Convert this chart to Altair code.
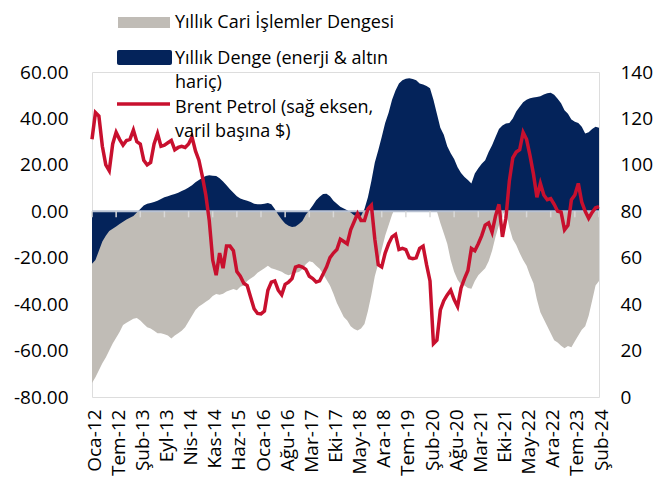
import altair as alt
import pandas as pd

FONT = "Open Sans"
GRAY = "#c0bcb6"
NAVY = "#04235a"
RED = "#c8102e"

labels = ["Oca-12", "Tem-12", "Şub-13", "Eyl-13", "Nis-14", "Kas-14", "Haz-15", "Oca-16",
          "Ağu-16", "Mar-17", "Eki-17", "May-18", "Ara-18", "Tem-19", "Şub-20", "Ağu-20",
          "Mar-21", "Eki-21", "May-22", "Ara-22", "Tem-23", "Şub-24"]

brent = [111, 122.5, 121, 108, 100, 97.5, 109, 114, 111, 108.5,
         110.5, 111, 115, 110, 109, 102, 100, 101, 109, 113.5,
         108, 108.5, 109.5, 110.5, 106.5, 107.5, 108, 107.5, 109, 112,
         106, 102, 95, 87, 76, 59, 52.5, 62, 55.5, 65,
         65, 63, 54, 52, 49, 48, 43, 38, 36, 35.8,
         37, 46, 49.5, 50, 46, 44, 48.5, 49.5, 51, 56,
         56.5, 56, 55, 52, 51, 49.5, 50, 53, 56, 60,
         62, 63.5, 68, 67, 66, 72, 75.5, 79, 76, 76,
         81, 82.6, 68, 57, 56, 62, 66, 69, 70, 63.5,
         64, 63.5, 60, 59.6, 60, 64, 65, 57, 50, 23,
         24.5, 37.5, 41.5, 44, 46, 42, 39, 47, 51, 54.5,
         64, 63, 66, 69.5, 74, 75, 71, 78, 83, 69,
         77, 93, 103, 105.5, 106.5, 114, 111, 104, 96, 86,
         92, 87, 85, 85.5, 83, 80, 79.7, 72, 74, 85,
         87, 92, 84, 80, 77, 79.5, 81.5, 82]

navy = [-22.6, -21, -17, -13, -10.5, -8.5, -7.5, -6.5, -5.5, -4.5,
        -3.5, -2.8, -2, -0.5, 1, 2.5, 3.3, 3.6, 4, 4.5,
        5.3, 6, 6.5, 7, 7.5, 8, 8.7, 9.4, 10.3, 11.2,
        12.5, 13.5, 14.5, 15.2, 15.5, 15.3, 15.2, 14.2, 12.8, 11.2,
        9.5, 8, 6.5, 5.5, 5, 4.5, 4, 3.3, 3, 3,
        3.3, 3.6, 3, 1, -1.5, -3.5, -5.3, -6.2, -6.8, -6.5,
        -5.5, -4.2, -1.5, 0.5, 2.5, 4.8, 6.3, 7.5, 7.6, 6.5,
        4.5, 3.3, 2, 1.2, 0.5, -0.5, -1.7, -2.3, -2, 1,
        6, 13, 21, 26.3, 32, 38, 42.5, 48, 52, 55,
        56.5, 57.1, 57.3, 57, 56.5, 55, 54.6, 54, 53, 48,
        42, 36, 33, 28, 25, 22.5, 19, 16.5, 14.8, 13.5,
        12, 16.3, 18.5, 20.5, 22, 25.5, 28.5, 32, 35.5, 37,
        37.8, 38, 40, 43, 45, 47, 48, 48.7, 49, 49.2,
        49.6, 50.3, 50.8, 51.1, 50.2, 48.5, 46.5, 43.5, 42, 39.5,
        38.6, 38, 36.4, 33.5, 34, 35.5, 36.4, 36]

gray = [-74, -71.5, -68.5, -65.5, -63, -60, -57, -54.5, -52, -49,
        -48, -47.2, -46.3, -46, -47, -48.5, -50, -50.5, -51.5, -52.5,
        -52.5, -53, -53.5, -54.8, -53.5, -52.5, -51.5, -50, -47.5, -45,
        -42.5, -41, -40, -39, -38, -36.5, -35.6, -36, -35.5, -34.5,
        -34, -33.5, -34, -32.5, -32, -30, -29, -28, -26.5, -25.5,
        -24.5, -23.5, -24.5, -25, -25.5, -26, -27, -27.5, -27, -26.5,
        -26.2, -25, -22.8, -21.5, -22, -23.5, -24.8, -27, -29.5, -32,
        -35.5, -39.5, -42.5, -45.5, -47, -49.5, -50.7, -51.4, -50.5, -48.5,
        -43, -36, -28, -22.6, -16.5, -10.5, -6, -1.5, 2, 4,
        5.5, 6.5, 7, 7.5, 7, 6, 5, 4, 3, 1.5,
        0, -5, -9.5, -14, -21, -26, -29.5, -31.5, -32, -33,
        -33.4, -30, -27.6, -26, -24.5, -21.5, -17, -11, -6, -1.5,
        0.5, -7, -12, -14.5, -18, -21, -23.5, -27.5, -31, -38,
        -43.5, -46.5, -49.5, -52.5, -55.5, -56.5, -57.9, -59, -58, -58.6,
        -56, -53.5, -51, -49.5, -45, -38.5, -32, -30]

n = len(brent)
step = 7
df = pd.DataFrame({"i": list(range(n)), "navy": navy, "gray": gray, "brent": brent})
tick_df = pd.DataFrame({"i": list(range(0, n, step))})
one = pd.DataFrame({"k": [0]})

label_expr = "[" + ",".join("'" + l + "'" for l in labels) + "][round(datum.value/" + str(step) + ")]"

x_scale = alt.Scale(domain=[0, n - 1], nice=False, zero=False)
x_axis = alt.Axis(values=list(range(0, n, step)), labelExpr=label_expr, labelAngle=-90,
                  ticks=False, domain=False, grid=False, labelPadding=12, labelFontSize=19,
                  labelFont=FONT, labelColor="#000", title=None, labelOffset=2,
                  labelFlush=False, labelOverlap=False)
y_scale = alt.Scale(domain=[-80, 60], nice=False, zero=False)
left_axis = alt.Axis(values=list(range(-80, 61, 20)),
                     labelExpr="(datum.value < 0 ? '-' : '') + format(abs(datum.value), '.2f')",
                     ticks=False, domain=False, grid=False, labelPadding=24, labelFontSize=19,
                     labelFont=FONT, labelColor="#000", title=None)
right_axis = alt.Axis(orient="right", values=list(range(0, 141, 20)), format="d",
                      ticks=False, domain=False, grid=False, labelPadding=21, labelFontSize=19,
                      labelFont=FONT, labelColor="#000", title=None)

X = alt.X("i:Q", scale=x_scale, axis=x_axis)

gray_area = alt.Chart(df).mark_area(color=GRAY, opacity=1).encode(
    x=X, y=alt.Y("gray:Q", scale=y_scale, axis=left_axis), y2=alt.Y2(datum=0))
navy_area = alt.Chart(df).mark_area(color=NAVY, opacity=1).encode(
    x=X, y=alt.Y("navy:Q", scale=y_scale, axis=left_axis), y2=alt.Y2(datum=0))
zero_rule = alt.Chart(one).mark_rule(color="#b9c2d3", strokeWidth=2).encode(
    y=alt.Y(datum=0, scale=y_scale, axis=left_axis))
ticks = alt.Chart(tick_df).mark_rule(color="#d9d9d9", strokeWidth=1.5).encode(
    x=X, y=alt.Y(datum=0, scale=y_scale, axis=left_axis), y2=alt.Y2(datum=-2.6))

left_group = alt.layer(gray_area, navy_area, zero_rule, ticks)

brent_line = alt.Chart(df).mark_line(color=RED, strokeWidth=3.5).encode(
    x=X, y=alt.Y("brent:Q", scale=alt.Scale(domain=[0, 140], nice=False, zero=False), axis=right_axis))


def txt(s, x, y):
    return alt.Chart(one).mark_text(align="left", baseline="alphabetic", fontSize=18,
                                    font=FONT, color="#000").encode(
        x=alt.value(x), y=alt.value(y), text=alt.value(s))


leg_gray = alt.Chart(one).mark_rect(color=GRAY).encode(
    x=alt.value(26), x2=alt.value(78), y=alt.value(-55), y2=alt.value(-44))
leg_navy = alt.Chart(one).mark_rect(color=NAVY, cornerRadius=2).encode(
    x=alt.value(25), x2=alt.value(80), y=alt.value(-22), y2=alt.value(-7))
leg_red = alt.Chart(one).mark_rule(color=RED, strokeWidth=3.5).encode(
    x=alt.value(25), x2=alt.value(78), y=alt.value(32))

legend = [leg_gray, txt("Yıllık Cari İşlemler Dengesi", 83, -44),
          leg_navy, txt("Yıllık Denge (enerji & altın", 83, -8), txt("hariç)", 83, 16),
          leg_red, txt("Brent Petrol (sağ eksen,", 83, 40.7), txt("varil başına $)", 83, 64.5)]

chart = alt.layer(left_group, brent_line, *legend).resolve_scale(y="independent").properties(
    width=507, height=325,
    padding={"left": 84, "top": 64, "right": 56, "bottom": 80},
    autosize=alt.AutoSizeParams(type="none"),
).configure_view(stroke=None).configure(background="white")

chart.save("out.html", embed_options={"renderer": "svg", "actions": False})
